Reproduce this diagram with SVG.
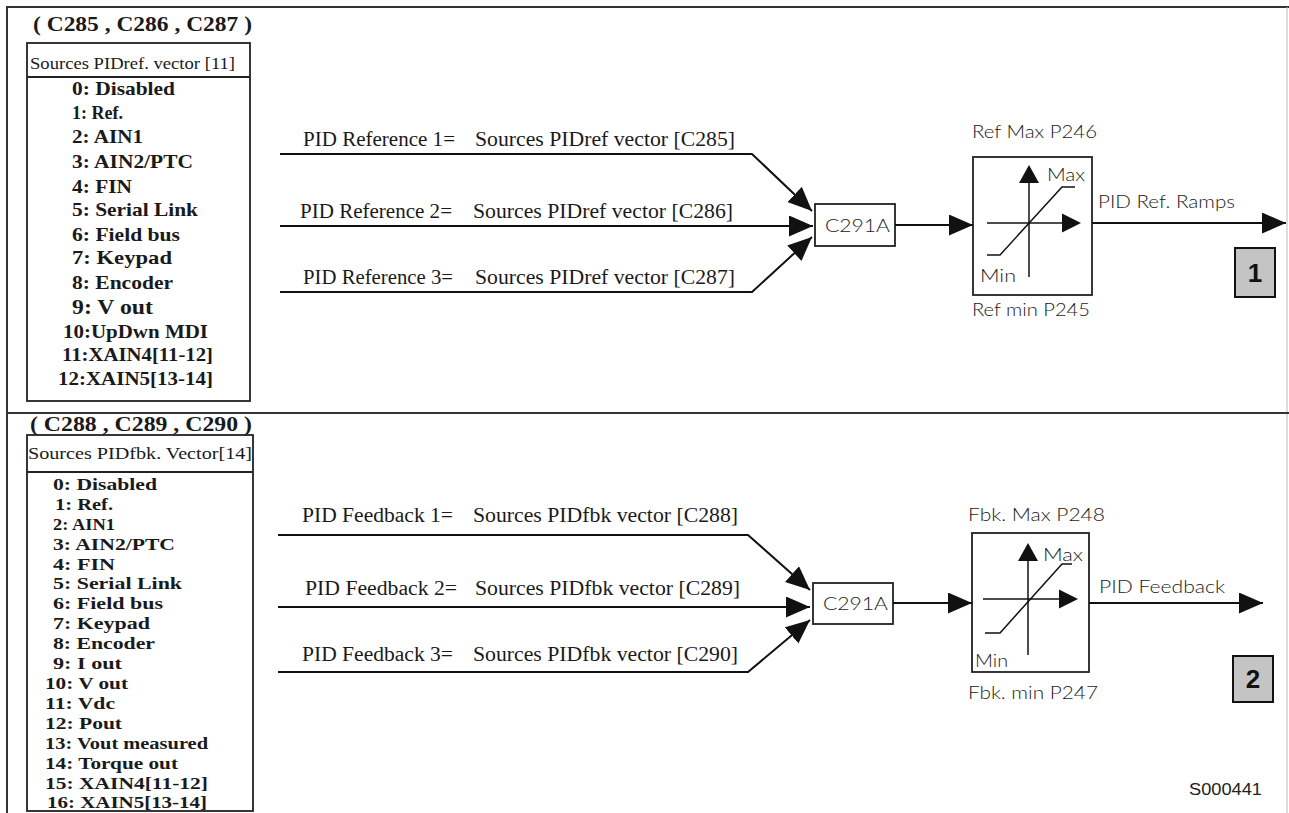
<svg xmlns="http://www.w3.org/2000/svg" width="1289" height="813" viewBox="0 0 1289 813">
<defs>
<style>
.frame{fill:none;stroke:#333;stroke-width:2}
.box{fill:#fff;stroke:#222;stroke-width:1.8}
.ln{fill:none;stroke:#111;stroke-width:2}
.thin{fill:none;stroke:#111;stroke-width:1.5}
.ser{font-family:"Liberation Serif",serif;fill:#1a1a1a}
.serb{font-family:"Liberation Serif",serif;font-weight:bold;fill:#1a1a1a}
.lab{font-family:"Liberation Serif",serif;font-size:20px;fill:#1a1a1a}
.gs{font-family:Lato,"Liberation Sans",sans-serif;font-weight:300;font-size:18px;fill:#1a1a1a}
.badge{fill:#c4c4c4;stroke:#111;stroke-width:2}
.bt{font-family:"Liberation Sans",sans-serif;font-weight:bold;font-size:26px;fill:#111;text-anchor:middle}
</style>
<marker id="ah" markerUnits="userSpaceOnUse" markerWidth="26" markerHeight="22" refX="24" refY="10.5" orient="auto">
<path d="M0,0 L24,10.5 L0,21 Z" fill="#111"/>
</marker>
</defs>

<g id="frame">
<path class="frame" d="M7,820 V7 H1289"/>
<line x1="1287" y1="7" x2="1287" y2="813" stroke="#bbb" stroke-width="1"/>
<line x1="7" y1="413" x2="1289" y2="413" stroke="#333" stroke-width="2"/>
</g>

<g id="ref-sources">
<text class="serb" x="33" y="31" font-size="20" textLength="219" lengthAdjust="spacingAndGlyphs">( C285 , C286 , C287 )</text>
<rect class="box" x="27" y="43" width="223" height="358"/>
<line x1="27" y1="77" x2="250" y2="77" stroke="#222" stroke-width="1.8"/>
<text class="ser" x="30" y="69" font-size="17" textLength="205" lengthAdjust="spacingAndGlyphs">Sources PIDref. vector [11]</text>
<g class="serb" font-size="19">
<text x="72" y="95" textLength="103" lengthAdjust="spacingAndGlyphs">0: Disabled</text>
<text x="72" y="119" textLength="51" lengthAdjust="spacingAndGlyphs">1: Ref.</text>
<text x="72" y="143" textLength="71" lengthAdjust="spacingAndGlyphs">2: AIN1</text>
<text x="72" y="168" textLength="121" lengthAdjust="spacingAndGlyphs">3: AIN2/PTC</text>
<text x="72" y="193" textLength="60" lengthAdjust="spacingAndGlyphs">4: FIN</text>
<text x="72" y="216" textLength="126" lengthAdjust="spacingAndGlyphs">5: Serial Link</text>
<text x="72" y="241" textLength="108" lengthAdjust="spacingAndGlyphs">6: Field bus</text>
<text x="72" y="264" textLength="100" lengthAdjust="spacingAndGlyphs">7: Keypad</text>
<text x="72" y="289" textLength="101" lengthAdjust="spacingAndGlyphs">8: Encoder</text>
<text x="72" y="314" font-size="21" textLength="81" lengthAdjust="spacingAndGlyphs">9: V out</text>
<text x="63" y="338" textLength="145" lengthAdjust="spacingAndGlyphs">10:UpDwn MDI</text>
<text x="62" y="361" textLength="151" lengthAdjust="spacingAndGlyphs">11:XAIN4[11-12]</text>
<text x="58" y="385" textLength="155" lengthAdjust="spacingAndGlyphs">12:XAIN5[13-14]</text>
</g>
</g>

<g id="fbk-sources">
<text class="serb" x="30" y="431" font-size="20" textLength="222" lengthAdjust="spacingAndGlyphs">( C288 , C289 , C290 )</text>
<rect class="box" x="27" y="435" width="226" height="376"/>
<line x1="27" y1="472" x2="253" y2="472" stroke="#222" stroke-width="1.8"/>
<text class="ser" x="28" y="459" font-size="17" textLength="224" lengthAdjust="spacingAndGlyphs">Sources PIDfbk. Vector[14]</text>
<g class="serb" font-size="16">
<text x="53" y="490" textLength="104" lengthAdjust="spacingAndGlyphs">0: Disabled</text>
<text x="55" y="510" textLength="58" lengthAdjust="spacingAndGlyphs">1: Ref.</text>
<text x="53" y="530" textLength="62" lengthAdjust="spacingAndGlyphs">2: AIN1</text>
<text x="53" y="550" textLength="122" lengthAdjust="spacingAndGlyphs">3: AIN2/PTC</text>
<text x="53" y="570" textLength="62" lengthAdjust="spacingAndGlyphs">4: FIN</text>
<text x="53" y="589" textLength="129" lengthAdjust="spacingAndGlyphs">5: Serial Link</text>
<text x="53" y="609" textLength="110" lengthAdjust="spacingAndGlyphs">6: Field bus</text>
<text x="53" y="629" textLength="97" lengthAdjust="spacingAndGlyphs">7: Keypad</text>
<text x="53" y="649" textLength="102" lengthAdjust="spacingAndGlyphs">8: Encoder</text>
<text x="53" y="669" textLength="69" lengthAdjust="spacingAndGlyphs">9: I out</text>
<text x="45" y="689" textLength="83" lengthAdjust="spacingAndGlyphs">10: V out</text>
<text x="45" y="709" textLength="70" lengthAdjust="spacingAndGlyphs">11: Vdc</text>
<text x="45" y="729" textLength="77" lengthAdjust="spacingAndGlyphs">12: Pout</text>
<text x="45" y="749" textLength="163" lengthAdjust="spacingAndGlyphs">13: Vout measured</text>
<text x="45" y="769" textLength="133" lengthAdjust="spacingAndGlyphs">14: Torque out</text>
<text x="45" y="789" textLength="163" lengthAdjust="spacingAndGlyphs">15: XAIN4[11-12]</text>
<text x="47" y="808" textLength="160" lengthAdjust="spacingAndGlyphs">16: XAIN5[13-14]</text>
</g>
</g>

<g id="ref-labels">
<text class="lab" x="303" y="146" textLength="152" lengthAdjust="spacingAndGlyphs">PID Reference 1=</text>
<text class="lab" x="475" y="146" textLength="260" lengthAdjust="spacingAndGlyphs">Sources PIDref vector [C285]</text>
<text class="lab" x="300" y="218" textLength="152" lengthAdjust="spacingAndGlyphs">PID Reference 2=</text>
<text class="lab" x="473" y="218" textLength="260" lengthAdjust="spacingAndGlyphs">Sources PIDref vector [C286]</text>
<text class="lab" x="303" y="284" textLength="150" lengthAdjust="spacingAndGlyphs">PID Reference 3=</text>
<text class="lab" x="475" y="284" textLength="260" lengthAdjust="spacingAndGlyphs">Sources PIDref vector [C287]</text>
</g>

<g id="fbk-labels">
<text class="lab" x="302" y="522" textLength="151" lengthAdjust="spacingAndGlyphs">PID Feedback 1=</text>
<text class="lab" x="473" y="522" textLength="265" lengthAdjust="spacingAndGlyphs">Sources PIDfbk vector [C288]</text>
<text class="lab" x="305" y="595" textLength="152" lengthAdjust="spacingAndGlyphs">PID Feedback 2=</text>
<text class="lab" x="475" y="595" textLength="265" lengthAdjust="spacingAndGlyphs">Sources PIDfbk vector [C289]</text>
<text class="lab" x="302" y="661" textLength="151" lengthAdjust="spacingAndGlyphs">PID Feedback 3=</text>
<text class="lab" x="473" y="661" textLength="265" lengthAdjust="spacingAndGlyphs">Sources PIDfbk vector [C290]</text>
</g>

<g id="sel-ref">
<rect class="box" x="815" y="204" width="80" height="42"/>
<text class="gs" x="825" y="232" font-size="19" textLength="65" lengthAdjust="spacingAndGlyphs">C291A</text>
</g>
<g id="sel-fbk">
<rect class="box" x="813" y="583" width="80" height="41"/>
<text class="gs" x="823" y="610" font-size="19" textLength="65" lengthAdjust="spacingAndGlyphs">C291A</text>
</g>

<g id="lim-ref">
<text class="gs" x="972" y="138" textLength="125" lengthAdjust="spacingAndGlyphs">Ref Max P246</text>
<rect class="box" x="973" y="157" width="119" height="138"/>
<line class="thin" x1="1029" y1="277" x2="1029" y2="180"/>
<path d="M1029,165 L1039,183 L1019,183 Z" fill="#111"/>
<line class="thin" x1="987" y1="223" x2="1064" y2="223"/>
<path d="M1081,223 L1062,213.5 L1062,232.5 Z" fill="#111"/>
<polyline class="thin" points="987,255 1000,255 1062,187 1075,187"/>
<text class="gs" x="1047" y="181" font-size="17" textLength="38" lengthAdjust="spacingAndGlyphs">Max</text>
<text class="gs" x="980" y="282" font-size="17" textLength="36" lengthAdjust="spacingAndGlyphs">Min</text>
<text class="gs" x="972" y="316" textLength="118" lengthAdjust="spacingAndGlyphs">Ref min P245</text>
</g>

<g id="lim-fbk">
<text class="gs" x="968" y="521" textLength="137" lengthAdjust="spacingAndGlyphs">Fbk. Max P248</text>
<rect class="box" x="972" y="533" width="117" height="139"/>
<line class="thin" x1="1028" y1="655" x2="1028" y2="558"/>
<path d="M1028,543 L1038,561 L1018,561 Z" fill="#111"/>
<line class="thin" x1="983" y1="599" x2="1061" y2="599"/>
<path d="M1078,599 L1059,589.5 L1059,608.5 Z" fill="#111"/>
<polyline class="thin" points="985,633 1000,633 1062,564 1072,564"/>
<text class="gs" x="1043" y="561" font-size="17" textLength="40" lengthAdjust="spacingAndGlyphs">Max</text>
<text class="gs" x="975" y="667" font-size="17" textLength="33" lengthAdjust="spacingAndGlyphs">Min</text>
<text class="gs" x="968" y="699" textLength="130" lengthAdjust="spacingAndGlyphs">Fbk. min P247</text>
</g>

<g id="out-ref">
<text class="gs" x="1098" y="208" textLength="137" lengthAdjust="spacingAndGlyphs">PID Ref. Ramps</text>
</g>
<g id="out-fbk">
<text class="gs" x="1099" y="593" textLength="126" lengthAdjust="spacingAndGlyphs">PID Feedback</text>
</g>

<g id="badge-1">
<rect class="badge" x="1235" y="248" width="40" height="49"/>
<text class="bt" x="1255" y="282">1</text>
</g>
<g id="badge-2">
<rect class="badge" x="1233" y="656" width="40" height="46"/>
<text class="bt" x="1253" y="688">2</text>
</g>

<g id="code">
<text x="1189" y="795" font-family="Liberation Sans, sans-serif" font-size="16" fill="#222" textLength="73" lengthAdjust="spacingAndGlyphs">S000441</text>
</g>

<g id="connectors">
<path class="ln" d="M280,154 H752 L812,211" marker-end="url(#ah)"/>
<path class="ln" d="M280,226 H813" marker-end="url(#ah)"/>
<path class="ln" d="M280,292 H752 L812,237" marker-end="url(#ah)"/>
<path class="ln" d="M895,225 H973" marker-end="url(#ah)"/>
<path class="ln" d="M1092,223 H1286" marker-end="url(#ah)"/>
<path class="ln" d="M278,535 H748 L810,590" marker-end="url(#ah)"/>
<path class="ln" d="M278,607 H810" marker-end="url(#ah)"/>
<path class="ln" d="M278,672 H748 L810,620" marker-end="url(#ah)"/>
<path class="ln" d="M893,603 H972" marker-end="url(#ah)"/>
<path class="ln" d="M1089,603 H1263" marker-end="url(#ah)"/>
</g>
</svg>
